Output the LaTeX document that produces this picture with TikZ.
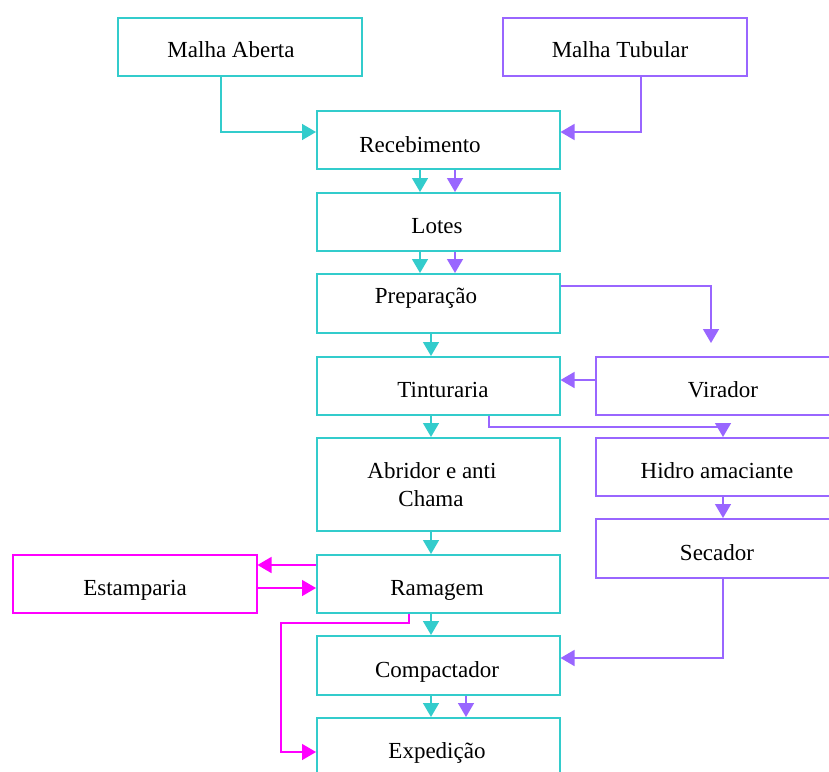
\documentclass[tikz,border=0pt]{standalone}
\usepackage{fontspec}
\setmainfont{Liberation Serif}
\usetikzlibrary{arrows.meta,calc}
\definecolor{tealc}{RGB}{51,204,204}
\definecolor{purpc}{RGB}{153,102,255}
\definecolor{magc}{RGB}{255,0,255}
\begin{document}
\begin{tikzpicture}[x=1pt,y=-1pt,
  box/.style={draw=#1,line width=1.5pt,rectangle,inner sep=0pt,anchor=north west},
  lbl/.style={anchor=base,inner sep=0pt,font=\fontsize{23}{27}\selectfont,text=black},
  con/.style={draw=#1,line width=1.5pt,-{Triangle[length=14pt,width=16pt]},#1}]
\useasboundingbox (0,0) rectangle (829,771);
\clip (0,0) rectangle (829,771);
% boxes
\node[box=tealc,minimum width=244pt,minimum height=58pt] (ma) at (117,17) {};
\node[box=purpc,minimum width=244pt,minimum height=58pt] (mt) at (502,17) {};
\node[box=tealc,minimum width=243pt,minimum height=58pt] (rec) at (316,110) {};
\node[box=tealc,minimum width=243pt,minimum height=58pt] (lot) at (316,192) {};
\node[box=tealc,minimum width=243pt,minimum height=59pt] (prep) at (316,273) {};
\node[box=tealc,minimum width=243pt,minimum height=58pt] (tint) at (316,356) {};
\node[box=purpc,minimum width=260pt,minimum height=58pt] (vir) at (595,356) {};
\node[box=tealc,minimum width=243pt,minimum height=93pt] (abr) at (316,437) {};
\node[box=purpc,minimum width=260pt,minimum height=58pt] (hid) at (595,437) {};
\node[box=purpc,minimum width=260pt,minimum height=59pt] (sec) at (595,518) {};
\node[box=magc,minimum width=244pt,minimum height=58pt] (est) at (12,554) {};
\node[box=tealc,minimum width=243pt,minimum height=58pt] (ram) at (316,554) {};
\node[box=tealc,minimum width=243pt,minimum height=59pt] (comp) at (316,635) {};
\node[box=tealc,minimum width=243pt,minimum height=80pt] (exp) at (316,717) {};
% labels
\node[lbl] (maT) at (231,57) {Malha Aberta};
\node[lbl] (mtT) at (620,57) {Malha Tubular};
\node[lbl] (recT) at (420,152) {Recebimento};
\node[lbl] (lotT) at (437,233) {Lotes};
\node[lbl] (prepT) at (426,303) {Preparação};
\node[lbl] (tintT) at (443,397) {Tinturaria};
\node[lbl] (virT) at (723,397) {Virador};
\node[lbl] (abrT1) at (432,478) {Abridor e anti};
\node[lbl] (abrT2) at (431,506) {Chama};
\node[lbl] (hidT) at (717,478) {Hidro amaciante};
\node[lbl] (secT) at (717,560) {Secador};
\node[lbl] (estT) at (135,595) {Estamparia};
\node[lbl] (ramT) at (437,595) {Ramagem};
\node[lbl] (compT) at (437,677) {Compactador};
\node[lbl] (expT) at (437,758) {Expedição};
% guide coordinates
\coordinate (xa) at (420,0);
\coordinate (xb) at (455,0);
\coordinate (xc) at (431,0);
\coordinate (xd) at (466,0);
\coordinate (xh) at (723,0);
\coordinate (xm) at (409,0);
\coordinate (xl) at (281,0);
\coordinate (xt) at (489,0);
\coordinate (xma) at (221,0);
\coordinate (xmt) at (641,0);
\coordinate (yr) at (0,132);
\coordinate (yp) at (0,286);
\coordinate (vtip) at (711,343);
\coordinate (yvir) at (0,380);
\coordinate (yt) at (0,427);
\coordinate (yre) at (0,565);
\coordinate (yer) at (0,588);
\coordinate (ym) at (0,623);
\coordinate (ye) at (0,752);
\coordinate (yc) at (0,658);
% connectors
\draw[con=tealc] (xma |- ma.south) |- (rec.west |- yr);
\draw[con=purpc] (xmt |- mt.south) |- (rec.east |- yr);
\draw[con=tealc] (xa |- rec.south) -- (xa |- lot.north);
\draw[con=purpc] (xb |- rec.south) -- (xb |- lot.north);
\draw[con=tealc] (xa |- lot.south) -- (xa |- prep.north);
\draw[con=purpc] (xb |- lot.south) -- (xb |- prep.north);
\draw[con=purpc] (prep.east |- yp) -| (vtip);
\draw[con=tealc] (xc |- prep.south) -- (xc |- tint.north);
\draw[con=purpc] (vir.west |- yvir) -- (tint.east |- yvir);
\draw[con=purpc] (xt |- tint.south) |- (xh |- yt) -- (xh |- hid.north);
\draw[con=tealc] (xc |- tint.south) -- (xc |- abr.north);
\draw[con=purpc] (xh |- hid.south) -- (xh |- sec.north);
\draw[con=tealc] (xc |- abr.south) -- (xc |- ram.north);
\draw[con=magc] (ram.west |- yre) -- (est.east |- yre);
\draw[con=magc] (est.east |- yer) -- (ram.west |- yer);
\draw[con=magc] (xm |- ram.south) |- (xl |- ym) |- (exp.west |- ye);
\draw[con=tealc] (xc |- ram.south) -- (xc |- comp.north);
\draw[con=purpc] (xh |- sec.south) |- (comp.east |- yc);
\draw[con=tealc] (xc |- comp.south) -- (xc |- exp.north);
\draw[con=purpc] (xd |- comp.south) -- (xd |- exp.north);
\end{tikzpicture}
\end{document}
